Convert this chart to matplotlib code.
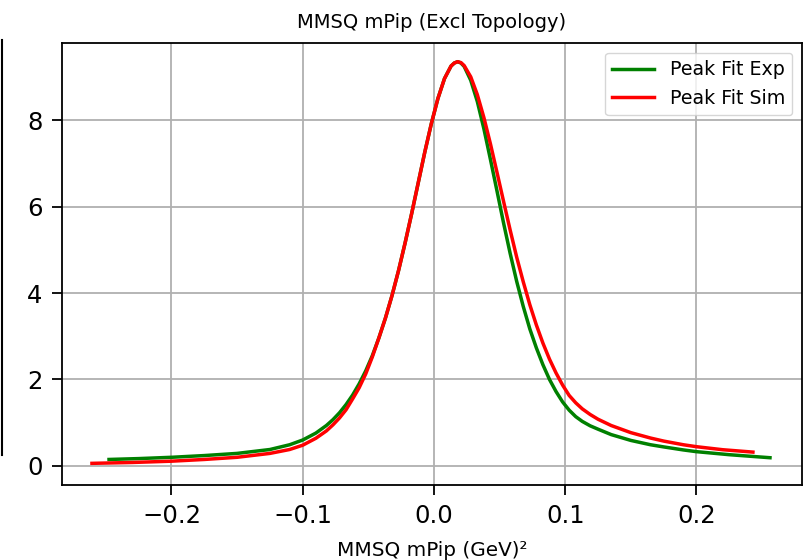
import matplotlib
matplotlib.use("Agg")
import matplotlib.pyplot as plt
from matplotlib.lines import Line2D

# values
exp_x = [-0.2476, -0.225, -0.2, -0.175, -0.15, -0.125, -0.11, -0.1, -0.09, -0.082,
         -0.077, -0.072, -0.067, -0.062, -0.057, -0.052, -0.047, -0.042, -0.037, -0.032,
         -0.027, -0.022, -0.017, -0.012, -0.007, -0.002, 0.003, 0.008, 0.013, 0.0155,
         0.018, 0.0205, 0.023, 0.028, 0.033, 0.038, 0.043, 0.048, 0.053, 0.058,
         0.063, 0.068, 0.073, 0.078, 0.083, 0.088, 0.093, 0.098, 0.103, 0.108,
         0.113, 0.119, 0.125, 0.135, 0.15, 0.165, 0.175, 0.19, 0.2, 0.225, 0.256]
exp_y = [0.15, 0.17, 0.20, 0.24, 0.29, 0.38, 0.49, 0.60, 0.76, 0.935,
         1.07, 1.23, 1.42, 1.64, 1.90, 2.20, 2.55, 2.96, 3.42, 3.94,
         4.52, 5.16, 5.84, 6.55, 7.26, 7.92, 8.50, 8.96, 9.25, 9.32,
         9.35, 9.32, 9.24, 8.92, 8.43, 7.80, 7.09, 6.36, 5.62, 4.92,
         4.27, 3.69, 3.17, 2.73, 2.34, 2.00, 1.72, 1.48, 1.29, 1.14,
         1.03, 0.928, 0.85, 0.725, 0.59, 0.49, 0.44, 0.37, 0.33, 0.26, 0.19]

sim_x = [-0.2606, -0.23, -0.2, -0.175, -0.15, -0.125, -0.11, -0.1, -0.09, -0.082,
         -0.077, -0.072, -0.067, -0.062, -0.057, -0.052, -0.047, -0.042, -0.037, -0.032,
         -0.027, -0.022, -0.017, -0.012, -0.007, -0.002, 0.003, 0.008, 0.013, 0.0155,
         0.018, 0.0205, 0.023, 0.028, 0.033, 0.038, 0.043, 0.048, 0.053, 0.058,
         0.063, 0.068, 0.073, 0.078, 0.083, 0.088, 0.093, 0.098, 0.103, 0.108,
         0.113, 0.119, 0.125, 0.135, 0.15, 0.165, 0.175, 0.19, 0.2, 0.22, 0.243]
sim_y = [0.06, 0.08, 0.11, 0.15, 0.20, 0.29, 0.38, 0.48, 0.64, 0.81,
         0.95, 1.11, 1.30, 1.55, 1.81, 2.13, 2.52, 2.96, 3.42, 3.94,
         4.52, 5.16, 5.84, 6.55, 7.26, 7.92, 8.50, 8.96, 9.25, 9.32,
         9.35, 9.33, 9.26, 9.00, 8.59, 8.06, 7.45, 6.79, 6.12, 5.46,
         4.83, 4.26, 3.73, 3.26, 2.84, 2.47, 2.15, 1.87, 1.63, 1.46,
         1.32, 1.19, 1.08, 0.935, 0.77, 0.645, 0.575, 0.49, 0.445, 0.375, 0.32]

title = "MMSQ mPip (Excl Topology)"
xlabel = "MMSQ mPip (GeV)²"

fig = plt.figure(figsize=(8.12, 5.6), dpi=100)
ax = fig.add_axes([0.0764, 0.134, 0.9113, 0.789])

ax.plot(exp_x, exp_y, color="green", lw=2.5, label="Peak Fit Exp")
ax.plot(sim_x, sim_y, color="red", lw=2.5, label="Peak Fit Sim")

ax.set_xlim(-0.2834, 0.2804)
ax.set_ylim(-0.44, 9.78)
ax.set_xticks([-0.2, -0.1, 0.0, 0.1, 0.2])
ax.set_yticks([0, 2, 4, 6, 8])
ax.grid(True, color="#b0b0b0", lw=1.3)
ax.tick_params(labelsize=17.5, length=7, width=1.3, pad=7)
for s in ax.spines.values():
    s.set_linewidth(1.3)

ax.set_title(title, fontsize=14, pad=11)
ax.set_xlabel(xlabel, fontsize=14.4, labelpad=9)
ax.legend(loc="upper right", fontsize=13.7, handlelength=2.2)

# edge of a neighbouring panel, cut off at the left
fig.add_artist(Line2D([0.002, 0.002], [1 - 40 / 560, 1 - 455 / 560], color="black", lw=1.5))

fig.savefig("out.png", dpi=100)
